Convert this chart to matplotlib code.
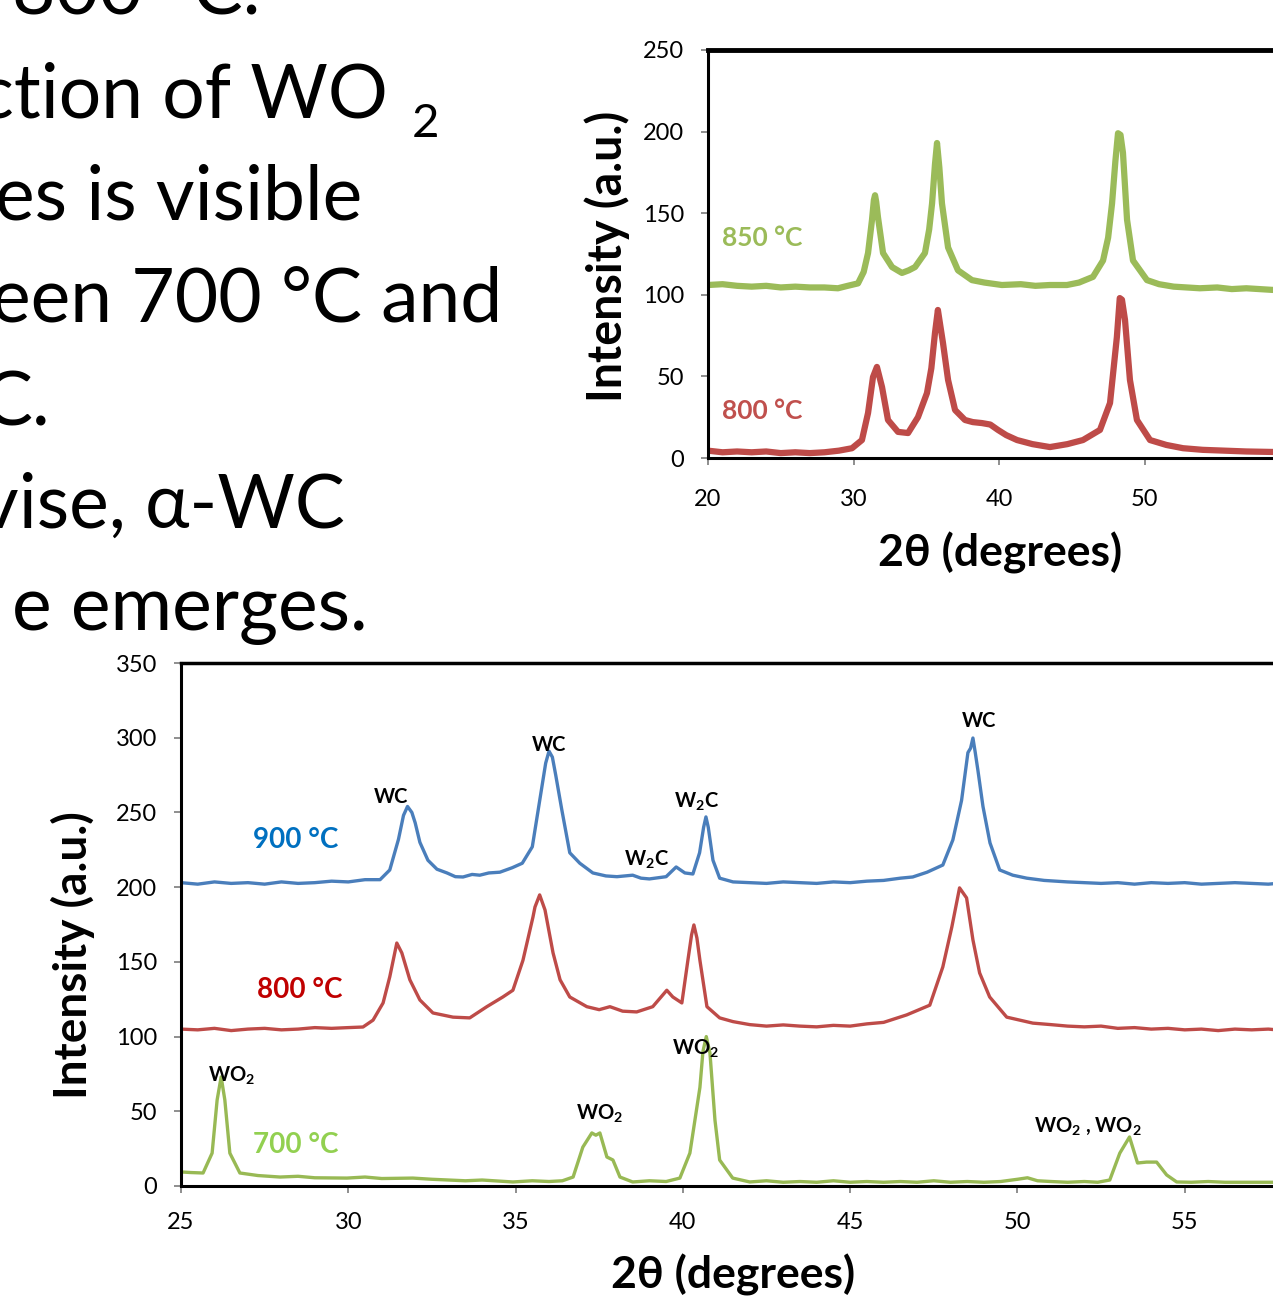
import matplotlib
matplotlib.use('Agg')
import matplotlib.pyplot as plt

plt.rcParams['font.family'] = ['Lato', 'DejaVu Sans']
plt.rcParams['mathtext.fontset'] = 'custom'
plt.rcParams['mathtext.rm'] = 'Lato:bold'
plt.rcParams['mathtext.bf'] = 'Lato:bold'
plt.rcParams['mathtext.it'] = 'Lato:bold'

# ---- bottom chart: 700 / 800 / 900 C ----
x900 = [25.0, 25.5, 26.0, 26.5, 27.0, 27.5, 28.0, 28.5, 29.0, 29.5,
        30.0, 30.5, 30.95, 31.24, 31.5, 31.65, 31.77, 31.9, 32.0, 32.14, 32.38, 32.65,
        32.95, 33.2, 33.43, 33.7, 33.93, 34.2, 34.53, 34.9, 35.2, 35.5,
        35.75, 35.9, 36.0, 36.1, 36.2, 36.38, 36.62, 36.92, 37.31, 37.7, 38.03, 38.5,
        38.75, 39.0, 39.5, 39.8, 40.06, 40.3, 40.5, 40.62, 40.69, 40.76, 40.9, 41.1,
        41.5, 42.0, 42.5, 43.0, 43.5, 44.0, 44.5, 45.0, 45.5, 46.0,
        46.5, 46.87, 47.3, 47.77, 48.07, 48.33, 48.52, 48.6, 48.67, 48.74, 48.82, 48.97,
        49.18, 49.47, 49.86, 50.28, 50.8, 51.5, 52.0, 52.5, 53.0, 53.5,
        54.0, 54.5, 55.0, 55.5, 56.0, 56.5, 57.0, 57.5, 58.0, 59.0,
        60.0]
y900 = [203, 202, 203.5, 202.5, 203, 202, 203.5, 202.5, 203, 204,
        203.5, 205, 205, 211.5, 232, 248, 254, 250, 243, 230, 218, 212,
        209.5, 207, 206.8, 208.5, 208, 209.5, 210, 213, 216, 227,
        262, 283, 291, 287, 275, 252, 223, 216, 209.5, 207.5, 207, 208,
        206, 205.5, 207, 213.5, 209.5, 208.8, 223, 240, 247, 240, 218, 206,
        203.5, 203, 202.5, 203.5, 203, 202.5, 203.5, 203, 204, 204.5,
        206, 206.8, 210, 214.8, 231.6, 258, 290, 293, 299.8, 290, 278, 254,
        229.6, 211.5, 208, 206, 204.5, 203.5, 203, 202.5, 203, 202,
        203, 202.5, 203, 202, 202.5, 203, 202.5, 202, 203, 202.5,
        203]

x800 = [25.0, 25.5, 26.0, 26.5, 27.0, 27.5, 28.0, 28.5, 29.0, 29.5,
        30.0, 30.44, 30.74, 31.04, 31.24, 31.45, 31.6, 31.84, 32.14, 32.53,
        33.13, 33.63, 34.14, 34.62, 34.92, 35.22, 35.52, 35.58, 35.72, 35.88,
        36.12, 36.33, 36.62, 37.13, 37.5, 37.82, 38.2, 38.62, 39.1, 39.52,
        39.7, 39.97, 40.15, 40.26, 40.33, 40.42, 40.51, 40.72, 41.1, 41.5, 42.0, 42.5,
        43.0, 43.5, 44.0, 44.5, 45.0, 45.5, 46.0, 46.69, 47.38, 47.77,
        48.04, 48.27, 48.48, 48.67, 48.87, 49.17, 49.68, 50.46, 51.0, 51.5,
        52.0, 52.5, 53.0, 53.5, 54.0, 54.5, 55.0, 55.5, 56.0, 56.5,
        57.0, 57.5, 58.0, 59.0, 60.0]
y800 = [105, 104.5, 105.5, 104, 105, 105.5, 104.5, 105, 106, 105.5,
        106, 106.4, 111, 122.5, 140, 162.6, 156, 138, 124.5, 115.8,
        113, 112.5, 120, 126.5, 131, 151, 180, 186.7, 194.8, 184.7,
        156, 138, 126.5, 120, 118, 120, 117, 116.5, 120, 131,
        126.5, 122.5, 151, 168, 174.7, 166, 151, 120, 112.5, 110, 108, 107,
        107.8, 107, 106.5, 107.5, 107, 108.5, 109.5, 114.5, 121, 146.6,
        173.4, 199.5, 192.8, 164.7, 142.6, 126.5, 113, 109, 108, 107,
        106.5, 107, 105.5, 106, 105, 105.5, 104.5, 105, 104, 105,
        104.5, 105, 104, 104.5, 104.5]

x700 = [25.0, 25.3, 25.66, 25.93, 26.08, 26.2, 26.31, 26.46, 26.76, 27.3,
        27.96, 28.5, 29.0, 29.96, 30.5, 31.0, 31.93, 32.5, 33.0, 33.5,
        34.0, 34.92, 35.5, 36.0, 36.4, 36.72, 37.01, 37.28, 37.4, 37.52,
        37.73, 37.91, 38.12, 38.5, 39.0, 39.5, 39.91, 40.21, 40.51, 40.6, 40.7,
        40.81, 40.96, 41.1, 41.49, 42.0, 42.5, 43.0, 43.5, 44.0, 44.5,
        45.0, 45.5, 46.0, 46.5, 47.0, 47.5, 48.0, 48.5, 49.0, 49.5,
        50.0, 50.3, 50.6, 51.0, 51.5, 52.0, 52.4, 52.76, 53.06, 53.35,
        53.59, 53.86, 54.16, 54.46, 54.76, 55.2, 55.7, 56.2, 57.0, 58.0,
        59.0, 60.0]
y700 = [9.4, 9, 8.7, 22, 57.6, 73, 57.6, 22, 8.7, 7,
        6, 6.5, 5.5, 5.3, 6, 5, 5.3, 4.5, 4, 3.5,
        4, 2.7, 3.5, 3, 3.5, 6, 26, 35.5, 34, 35.5,
        19.4, 17.4, 6, 2.7, 3.5, 3, 5.3, 22, 66, 90, 100,
        89, 44, 17.4, 5.3, 2.7, 3.5, 2.5, 3, 2.5, 3.5,
        2.5, 3, 2.5, 3, 2.5, 3.5, 2.5, 3, 2.5, 3,
        4.5, 5.5, 3.5, 3, 2.5, 3, 2.5, 4, 22, 32.8,
        15.4, 16, 16, 7.4, 2.7, 2.5, 3, 2.5, 2.5, 2.5,
        2.5, 2.5]

# ---- top chart: 800 / 850 C ----
x850 = [20.0, 21.0, 22.0, 23.0, 24.0, 25.0, 26.0, 27.0, 28.0, 28.93,
        29.6, 30.31, 30.7, 31.0, 31.27, 31.4, 31.48, 31.56, 31.68, 32.03, 32.65, 33.33,
        33.8, 34.23, 34.91, 35.2, 35.4, 35.6, 35.74, 35.9, 36.08, 36.5,
        37.18, 38.14, 39.0, 40.2, 41.5, 42.5, 43.5, 44.67, 45.5, 46.46,
        47.15, 47.5, 47.77, 48.0, 48.18, 48.35, 48.52, 48.8, 49.21, 50.17,
        51.0, 52.0, 53.8, 55.0, 56.0, 57.0, 58.8, 60.0]
y850 = [106, 106.5, 105.5, 105, 105.5, 104.5, 105, 104.5, 104.5, 104,
        105.5, 107, 114, 125.6, 145.8, 158, 161, 157, 147.7, 125.6, 117, 113.4,
        115, 117, 125.6, 140, 156, 180, 193, 178, 156, 129,
        115, 109, 107.5, 106, 106.5, 105.5, 106, 106, 107.5, 111,
        121, 135, 156, 182, 199, 198, 187, 146, 121, 109,
        106.5, 105, 104, 104.5, 103.5, 104, 103, 103.5]

x800t = [20.0, 21.0, 22.0, 23.0, 24.0, 25.0, 26.0, 27.0, 28.0, 29.0,
         29.9, 30.58, 31.0, 31.34, 31.61, 31.96, 32.37, 33.06, 33.75, 34.43,
         35.05, 35.35, 35.6, 35.8, 35.95, 36.15, 36.5, 36.98, 37.66, 38.2,
         38.83, 39.4, 39.93, 40.5, 41.24, 42.3, 43.5, 44.7, 45.77, 46.94,
         47.63, 48.1, 48.3, 48.45, 48.66, 49.0, 49.48, 50.38, 51.5, 52.65, 54.0,
         55.5, 57.0, 58.8, 60.0]
y800t = [4.5, 3.5, 4, 3.5, 4, 3, 3.5, 3, 3.5, 4.5,
         6, 11, 27.6, 49.6, 55.8, 43.5, 23.3, 16, 15.3, 25,
         39.8, 55, 76.6, 90.7, 82, 70.5, 47.8, 29.4, 23.3, 22,
         21.4, 20.5, 17.2, 14, 11, 8.5, 6.7, 8.5, 11, 17.2,
         33.7, 74, 98, 97, 84.6, 47.8, 23.3, 11, 8, 6, 5,
         4.5, 4, 3.7, 4]

# peak labels (x, y, text)
peak_labels = [(31.27, 260, 'WC'), (36.0, 295, 'WC'), (38.9, 218, 'W$_2$C'),
               (40.42, 257, 'W$_2$C'), (48.84, 311, 'WC'),
               (26.52, 73.6, 'WO$_2$'), (37.52, 48, 'WO$_2$'),
               (40.39, 92, 'WO$_2$'), (52.1, 40, 'WO$_2$ , WO$_2$')]

W, H = 1273, 1299
fig = plt.figure(figsize=(W / 100, H / 100), dpi=100)


def fx(px):
    return px / W


def fy(py):
    return 1 - py / H


# slide text, cut on the left
slide_lines = [(13, 260, '800 °C.'), (117, 388, 'ction of WO'),
               (220, 362, 'es is visible'), (322, 502, 'een 700 °C and'),
               (425, 50, 'C.'), (528, 345, 'vise, α-WC'), (630, 368, 'e emerges.')]
for yb, xr, s in slide_lines:
    fig.text(fx(xr), fy(yb), s, fontsize=54, ha='right', va='baseline')
fig.text(fx(412), fy(137), '2', fontsize=34, ha='left', va='baseline')

gray = '#868686'


def style_axes(ax, top_lw):
    for sp in ax.spines.values():
        sp.set_color('black')
        sp.set_linewidth(2.2)
    ax.spines['top'].set_linewidth(top_lw)
    ax.tick_params(direction='out', length=5, width=1.3, color=gray,
                   labelsize=17, pad=12)
    ax.tick_params(axis='x', pad=14)


# bottom chart
ax = fig.add_axes([fx(181), fy(1186), (1352 - 181) / W, (1186 - 663) / H])
ax.plot(x700, y700, color='#98B954', lw=2.4)
ax.plot(x800, y800, color='#BE4B48', lw=2.4)
ax.plot(x900, y900, color='#4A7EBB', lw=2.4)
ax.set_xlim(25, 60)
ax.set_ylim(0, 350)
ax.set_xticks(range(25, 56, 5))
ax.set_yticks(range(0, 351, 50))
style_axes(ax, 2.5)
ax.text(28.44, 231.6, '900 °C', color='#0070C0', fontsize=20, fontweight='bold', ha='center', va='center')
ax.text(28.56, 131.2, '800 °C', color='#C00000', fontsize=20, fontweight='bold', ha='center', va='center')
ax.text(28.44, 27.4, '700 °C', color='#92D050', fontsize=20, fontweight='bold', ha='center', va='center')
for px, py, s in peak_labels:
    ax.text(px, py, s, fontsize=14.5, fontweight='bold', ha='center', va='center')

# top chart
ax2 = fig.add_axes([fx(708), fy(458), (1290 - 708) / W, (458 - 50) / H])
ax2.plot(x800t, y800t, color='#BE4B48', lw=4.5)
ax2.plot(x850, y850, color='#9BBB59', lw=4.5)
ax2.set_xlim(20, 60)
ax2.set_ylim(0, 250)
ax2.set_xticks(range(20, 51, 10))
ax2.set_yticks(range(0, 251, 50))
style_axes(ax2, 3.5)
ax2.tick_params(axis='x', pad=17)
ax2.text(23.71, 134.8, '850 °C', color='#9BBB59', fontsize=19, fontweight='bold', ha='center', va='center')
ax2.text(23.71, 28.8, '800 °C', color='#C0504D', fontsize=19, fontweight='bold', ha='center', va='center')

# axis titles
fig.text(fx(733), fy(1275), '2θ (degrees)', fontsize=32, fontweight='bold', ha='center', va='center')
fig.text(fx(73), fy(955), 'Intensity (a.u.)', fontsize=33, fontweight='bold', ha='center', va='center', rotation=90)
fig.text(fx(1000), fy(553), '2θ (degrees)', fontsize=32, fontweight='bold', ha='center', va='center')
fig.text(fx(607), fy(256), 'Intensity (a.u.)', fontsize=33.5, fontweight='bold', ha='center', va='center', rotation=90)

fig.savefig('out.png', dpi=100)
